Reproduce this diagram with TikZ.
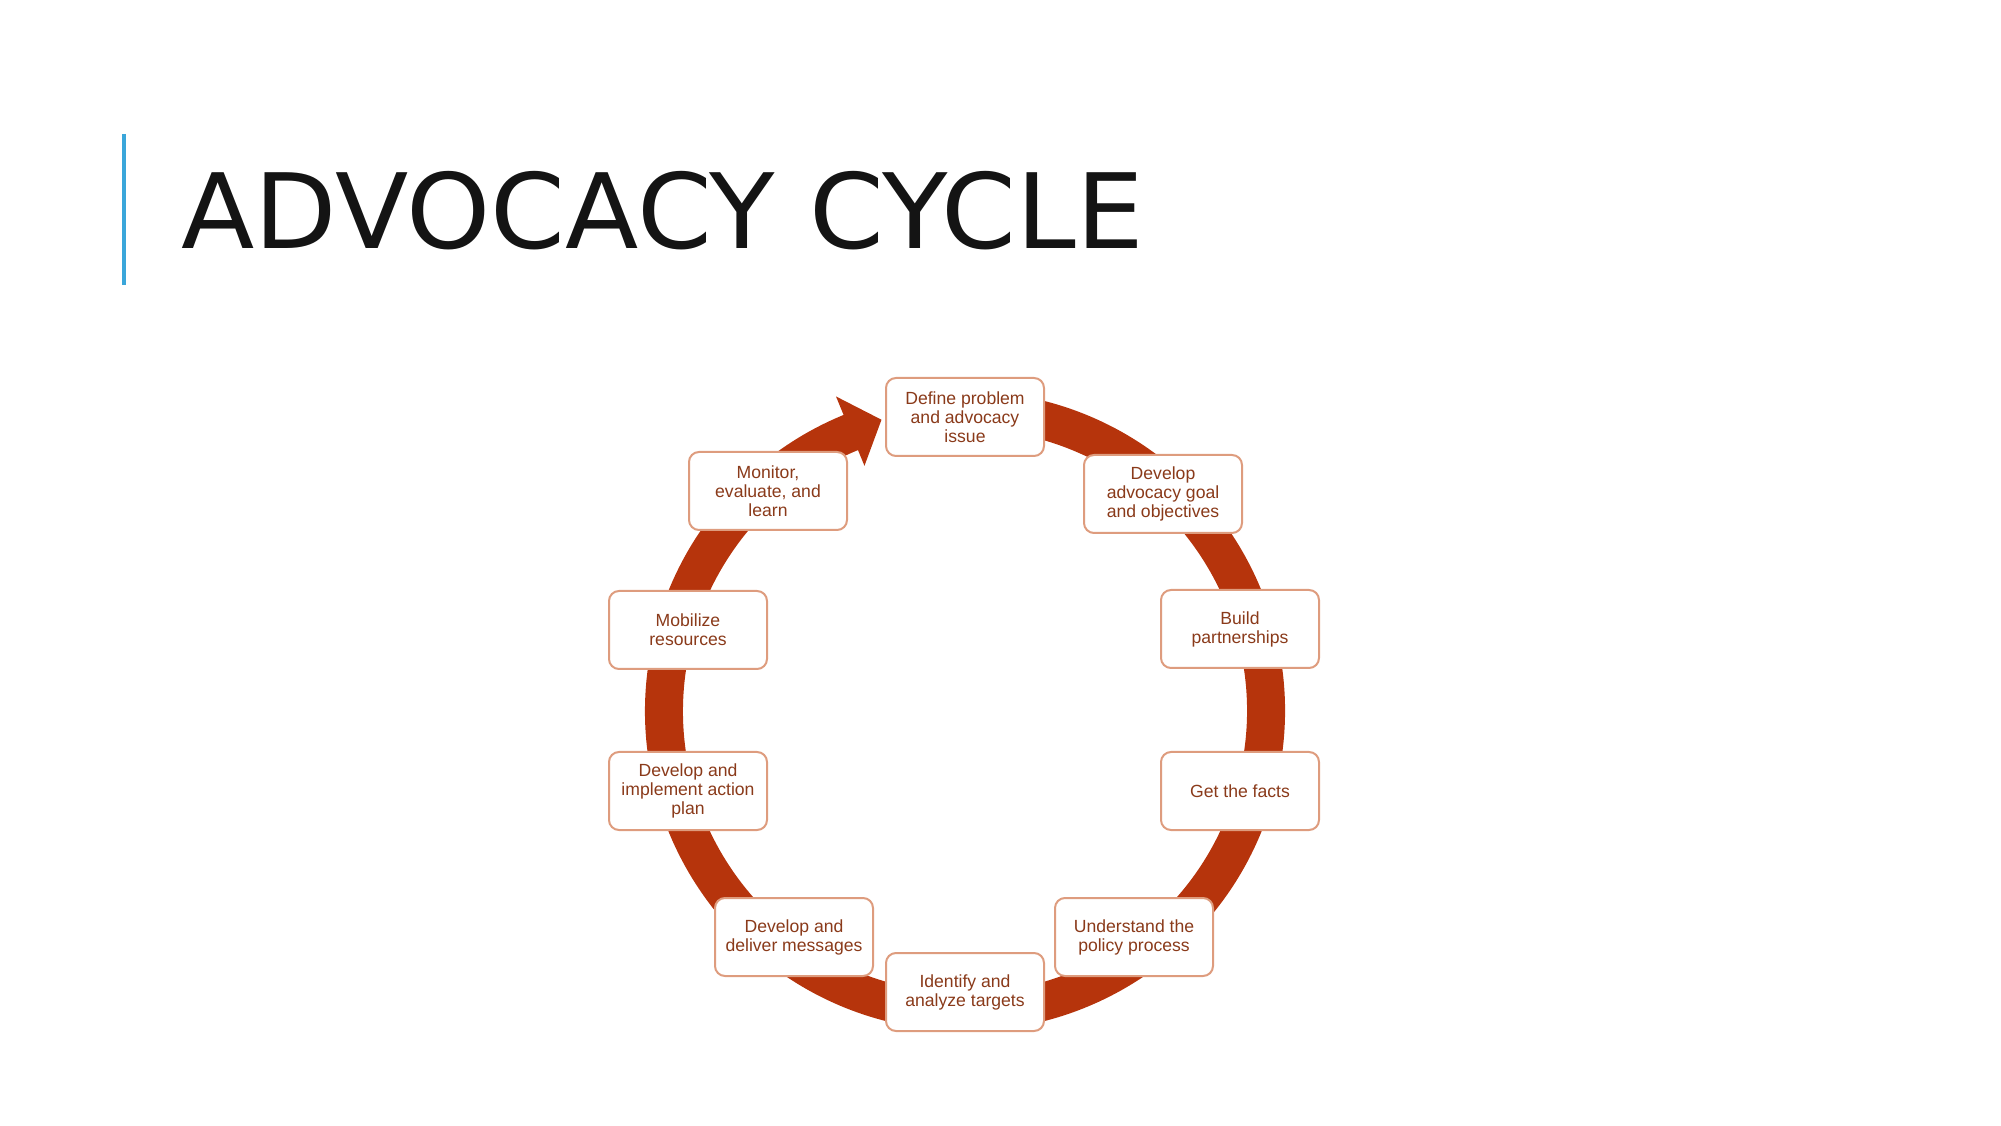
\documentclass[tikz,border=0pt]{standalone}
\usepackage{fontspec}
\usepackage{xcolor}
\usepackage{tikz}
\newfontfamily\titlefont{DejaVu Sans}
\newfontfamily\boxfont{Liberation Sans}
\definecolor{ringred}{HTML}{B6340C}
\definecolor{boxedge}{HTML}{DE9C7E}
\definecolor{boxtext}{HTML}{8A3A1A}
\definecolor{barblue}{HTML}{3AA6DA}
\tikzset{
  stepbox/.style={draw=boxedge, line width=2pt, fill=white, rounded corners=10pt,
    minimum width=158pt, minimum height=78pt, align=center, text=boxtext,
    font=\boxfont\fontsize{17.6}{19}\selectfont, inner sep=2pt}
}

\begin{document}
\begin{tikzpicture}[x=1pt, y=1pt]
  \useasboundingbox (0,0) rectangle (2001,1125);
  % title
  \coordinate (barT) at (124,991);
  \coordinate (barB) at (124,840);
  \draw[barblue, line width=3.5pt] (barT) -- (barB);
  \node[anchor=base west, inner sep=0pt, xscale=1.03, transform shape,
    font=\titlefont\fontsize{104}{120}\selectfont, text=black!92] (title) at (181,876) {ADVOCACY CYCLE};
  % ring with arrow head
  \coordinate (C) at (965,414);
  \draw[ringred, line width=38pt, shift={(C)}] (80:301) arc[start angle=80, end angle=-248, radius=301];
  \fill[ringred, shift={(C)}] (112.3:340) -- (106:303) -- (112.3:265) -- cycle;
  % steps
  \node[stepbox] (define)    at (965,708) {Define problem\\and advocacy\\issue};
  \node[stepbox] (goal)      at (1163,631) {Develop\\advocacy goal\\and objectives};
  \node[stepbox] (partners)  at (1240,496) {Build\\partnerships};
  \node[stepbox] (facts)     at (1240,334) {Get the facts};
  \node[stepbox] (policy)    at (1134,188) {Understand the\\policy process};
  \node[stepbox] (targets)   at (965,133) {Identify and\\analyze targets};
  \node[stepbox] (messages)  at (794,188) {Develop and\\deliver messages};
  \node[stepbox] (plan)      at (688,334) {Develop and\\implement action\\plan};
  \node[stepbox] (resources) at (688,495) {Mobilize\\resources};
  \node[stepbox] (monitor)   at (768,634) {Monitor,\\evaluate, and\\learn};
\end{tikzpicture}
\end{document}
